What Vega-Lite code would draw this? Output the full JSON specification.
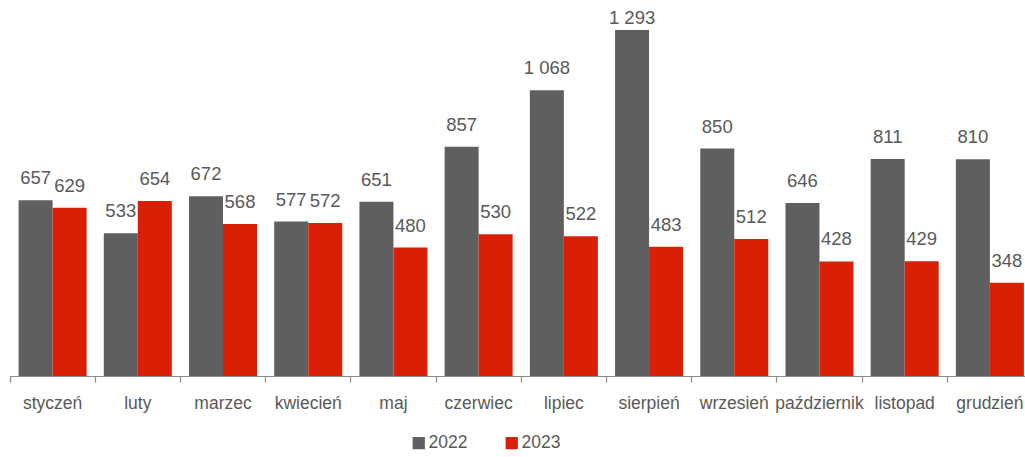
{
  "$schema": "https://vega.github.io/schema/vega-lite/v6.json",
  "width": 1015,
  "height": 376,
  "autosize": {"type": "none"},
  "padding": {"left": 10, "top": 0, "right": 0, "bottom": 81},
  "background": "#ffffff",
  "config": {
    "view": {"stroke": null},
    "font": "Liberation Sans",
    "locale": {"number": {"decimal": ",", "thousands": " ", "grouping": [3], "currency": ["", " zł"]}}
  },
  "data": {
    "values": [
      {"miesiac": "styczeń", "rok": "2022", "wartosc": 657},
      {"miesiac": "styczeń", "rok": "2023", "wartosc": 629},
      {"miesiac": "luty", "rok": "2022", "wartosc": 533},
      {"miesiac": "luty", "rok": "2023", "wartosc": 654},
      {"miesiac": "marzec", "rok": "2022", "wartosc": 672},
      {"miesiac": "marzec", "rok": "2023", "wartosc": 568},
      {"miesiac": "kwiecień", "rok": "2022", "wartosc": 577},
      {"miesiac": "kwiecień", "rok": "2023", "wartosc": 572},
      {"miesiac": "maj", "rok": "2022", "wartosc": 651},
      {"miesiac": "maj", "rok": "2023", "wartosc": 480},
      {"miesiac": "czerwiec", "rok": "2022", "wartosc": 857},
      {"miesiac": "czerwiec", "rok": "2023", "wartosc": 530},
      {"miesiac": "lipiec", "rok": "2022", "wartosc": 1068},
      {"miesiac": "lipiec", "rok": "2023", "wartosc": 522},
      {"miesiac": "sierpień", "rok": "2022", "wartosc": 1293},
      {"miesiac": "sierpień", "rok": "2023", "wartosc": 483},
      {"miesiac": "wrzesień", "rok": "2022", "wartosc": 850},
      {"miesiac": "wrzesień", "rok": "2023", "wartosc": 512},
      {"miesiac": "październik", "rok": "2022", "wartosc": 646},
      {"miesiac": "październik", "rok": "2023", "wartosc": 428},
      {"miesiac": "listopad", "rok": "2022", "wartosc": 811},
      {"miesiac": "listopad", "rok": "2023", "wartosc": 429},
      {"miesiac": "grudzień", "rok": "2022", "wartosc": 810},
      {"miesiac": "grudzień", "rok": "2023", "wartosc": 348}
    ]
  },
  "encoding": {
    "x": {
      "field": "miesiac",
      "type": "nominal",
      "sort": null,
      "title": null,
      "scale": {"range": [0, 1022.5], "paddingInner": 0, "paddingOuter": 0},
      "axis": {
        "bandPosition": 0,
        "tickExtra": true,
        "labelAngle": 0,
        "labelFontSize": 17.5,
        "labelColor": "#595959",
        "labelPadding": 12,
        "tickSize": 6,
        "tickColor": "#8c8c8c",
        "domainColor": "#8c8c8c",
        "domainWidth": 1.2,
        "tickWidth": 1.2
      }
    },
    "xOffset": {
      "field": "rok",
      "type": "nominal",
      "scale": {"paddingInner": 0, "paddingOuter": 0.253}
    }
  },
  "layer": [
    {
      "mark": {"type": "bar"},
      "encoding": {
        "y": {
          "field": "wartosc",
          "type": "quantitative",
          "scale": {"domain": [0, 1405], "nice": false, "zero": true},
          "axis": null
        },
        "color": {
          "field": "rok",
          "type": "nominal",
          "title": null,
          "scale": {"domain": ["2022", "2023"], "range": ["#5f5f5f", "#d91f05"]},
          "legend": {
            "orient": "none",
            "direction": "horizontal",
            "legendX": 400,
            "legendY": 434,
            "symbolType": "square",
            "symbolSize": 150,
            "symbolStrokeWidth": 0,
            "labelFontSize": 17.5,
            "labelColor": "#595959",
            "labelOffset": 1,
            "columnPadding": 35,
            "padding": 0
          }
        }
      }
    },
    {
      "transform": [{"calculate": "min(datum.wartosc, 1256)", "as": "pozycja_etykiety"}],
      "mark": {"type": "text", "fontSize": 18.5, "color": "#595959", "baseline": "alphabetic", "dy": -16},
      "encoding": {
        "y": {"field": "pozycja_etykiety", "type": "quantitative", "scale": {"domain": [0, 1405], "nice": false}, "axis": null},
        "text": {"field": "wartosc", "type": "quantitative", "format": ",d"}
      }
    }
  ]
}
